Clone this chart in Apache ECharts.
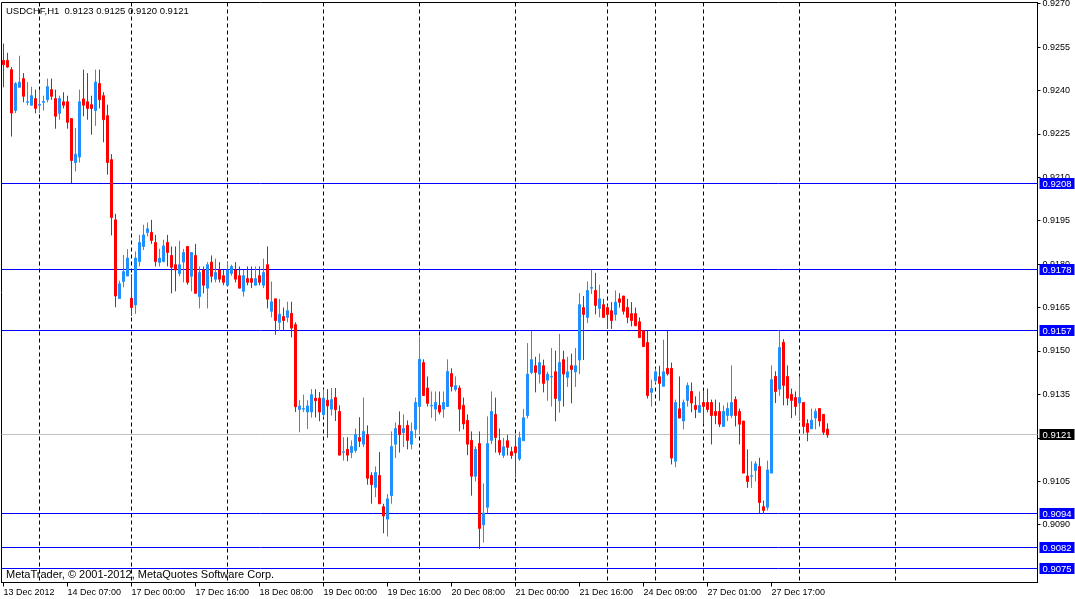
<!DOCTYPE html>
<html>
<head>
<meta charset="utf-8">
<script src="https://cdn.jsdelivr.net/npm/echarts@6/dist/echarts.min.js"></script>
<style>html,body{margin:0;padding:0;background:#fff;}#c{width:1075px;height:599px;}</style>
</head>
<body>
<div id="c"></div>
<script>
// USDCHF H1 candles, 13 Dec 2012 15:00 .. 28 Dec 2012 07:00
const opens = [
0.92504,0.92504,0.92472,0.92331,0.92411,0.92441,0.92359,0.92349,0.92372,0.92349,
0.92359,0.92368,0.92403,0.92372,0.92321,0.92361,0.92361,0.92303,0.92151,0.92170,
0.92371,0.92361,0.92351,0.92331,0.92424,0.92382,0.92313,0.92161,0.91953,0.91681,
0.91740,0.91759,0.91682,0.91659,0.91809,0.91861,0.91909,0.91910,0.91875,0.91806,
0.91809,0.91875,0.91830,0.91798,0.91768,0.91807,0.91861,0.91758,0.91830,0.91688,
0.91780,0.91717,0.91807,0.91748,0.91780,0.91760,0.91727,0.91768,0.91780,0.91760,
0.91706,0.91750,0.91750,0.91727,0.91760,0.91727,0.91798,0.91637,0.91680,0.91599,
0.91619,0.91616,0.91630,0.91591,0.91298,0.91299,0.91289,0.91289,0.91337,0.91337,
0.91280,0.91330,0.91299,0.91339,0.91291,0.91150,0.91160,0.91149,0.91156,0.91201,
0.91178,0.91211,0.91070,0.91029,0.91070,0.90962,0.90919,0.91000,0.91178,0.91243,
0.91218,0.91243,0.91178,0.91229,0.91308,0.91460,0.91372,0.91310,0.91299,0.91312,
0.91299,0.91308,0.91422,0.91367,0.91372,0.91312,0.91260,0.91191,0.91067,0.91180,
0.90899,0.90960,0.91191,0.91281,0.91191,0.91139,0.91190,0.91152,0.91169,0.91127,
0.91190,0.91277,0.91426,0.91449,0.91420,0.91449,0.91399,0.91410,0.91428,0.91328,
0.91470,0.91409,0.91449,0.91428,0.91469,0.91650,0.91616,0.91717,0.91709,0.91647,
0.91660,0.91650,0.91639,0.91626,0.91680,0.91690,0.91650,0.91629,0.91629,0.91601,
0.91570,0.91529,0.91357,0.91397,0.91411,0.91378,0.91440,0.91440,0.91119,0.91300,
0.91258,0.91329,0.91360,0.91312,0.91288,0.91322,0.91322,0.91322,0.91291,0.91291,
0.91239,0.91277,0.91277,0.91332,0.91291,0.91258,0.91068,0.91067,0.91087,0.91101,
0.90962,0.90960,0.91078,0.91412,0.91368,0.91530,0.91412,0.91350,0.91339,0.91320,
0.91322,0.91249,0.91231,0.91268,0.91301,0.91281,0.91230];
const closes = [
0.92489,0.92481,0.92322,0.92424,0.92429,0.92380,0.92361,0.92382,0.92338,0.92352,
0.92362,0.92413,0.92380,0.92311,0.92372,0.92349,0.92290,0.92158,0.92180,0.92361,
0.92349,0.92338,0.92338,0.92429,0.92368,0.92299,0.92151,0.91961,0.91690,0.91732,
0.91774,0.91821,0.91650,0.91821,0.91875,0.91901,0.91922,0.91882,0.91809,0.91821,
0.91863,0.91840,0.91789,0.91780,0.91798,0.91840,0.91737,0.91840,0.91699,0.91771,
0.91727,0.91798,0.91758,0.91771,0.91748,0.91737,0.91780,0.91792,0.91748,0.91717,
0.91760,0.91737,0.91737,0.91750,0.91737,0.91771,0.91679,0.91670,0.91605,0.91627,
0.91605,0.91639,0.91579,0.91307,0.91310,0.91301,0.91310,0.91349,0.91328,0.91289,
0.91337,0.91310,0.91332,0.91297,0.91140,0.91152,0.91140,0.91170,0.91211,0.91188,
0.91222,0.91060,0.91038,0.91080,0.90972,0.90930,0.90989,0.91170,0.91232,0.91211,
0.91232,0.91191,0.91222,0.91322,0.91471,0.91346,0.91319,0.91312,0.91322,0.91289,
0.91322,0.91429,0.91377,0.91380,0.91299,0.91248,0.91178,0.91067,0.91160,0.90887,
0.90940,0.91180,0.91291,0.91201,0.91150,0.91169,0.91167,0.91139,0.91148,0.91200,
0.91269,0.91420,0.91470,0.91426,0.91460,0.91388,0.91420,0.91412,0.91336,0.91460,
0.91420,0.91428,0.91436,0.91449,0.91660,0.91626,0.91709,0.91719,0.91657,0.91680,
0.91616,0.91626,0.91605,0.91669,0.91668,0.91637,0.91616,0.91605,0.91587,0.91546,
0.91515,0.91346,0.91370,0.91428,0.91388,0.91428,0.91421,0.91130,0.91322,0.91268,
0.91322,0.91381,0.91320,0.91298,0.91312,0.91308,0.91298,0.91277,0.91277,0.91247,
0.91291,0.91301,0.91322,0.91277,0.91247,0.91078,0.91049,0.91069,0.91110,0.90976,
0.90949,0.91089,0.91401,0.91360,0.91512,0.91381,0.91337,0.91329,0.91308,0.91339,
0.91239,0.91219,0.91261,0.91291,0.91258,0.91219,0.91210];
const lows = [
0.92411,0.92478,0.92241,0.92322,0.92411,0.92359,0.92349,0.92349,0.92321,0.92322,
0.92331,0.92359,0.92368,0.92268,0.92299,0.92338,0.92268,0.92080,0.92120,0.92151,
0.92311,0.92299,0.92247,0.92278,0.92338,0.92221,0.92109,0.91899,0.91651,0.91681,
0.91720,0.91759,0.91621,0.91628,0.91792,0.91849,0.91896,0.91870,0.91792,0.91792,
0.91806,0.91792,0.91699,0.91706,0.91758,0.91737,0.91729,0.91706,0.91699,0.91647,
0.91699,0.91647,0.91737,0.91737,0.91737,0.91727,0.91727,0.91760,0.91737,0.91717,
0.91688,0.91727,0.91717,0.91727,0.91727,0.91717,0.91647,0.91616,0.91556,0.91570,
0.91570,0.91599,0.91547,0.91289,0.91219,0.91289,0.91230,0.91270,0.91270,0.91257,
0.91270,0.91200,0.91277,0.91258,0.91140,0.91121,0.91119,0.91130,0.91149,0.91168,
0.91168,0.91038,0.90972,0.90995,0.90972,0.90870,0.90859,0.90972,0.91130,0.91149,
0.91168,0.91160,0.91160,0.91199,0.91211,0.91346,0.91308,0.91269,0.91258,0.91281,
0.91269,0.91308,0.91360,0.91360,0.91222,0.91229,0.91140,0.91000,0.91049,0.90816,
0.90838,0.90939,0.91178,0.91149,0.91140,0.91130,0.91139,0.91127,0.91063,0.91120,
0.91190,0.91267,0.91420,0.91357,0.91388,0.91357,0.91328,0.91308,0.91257,0.91287,
0.91308,0.91376,0.91319,0.91376,0.91420,0.91469,0.91596,0.91697,0.91626,0.91616,
0.91616,0.91576,0.91576,0.91605,0.91650,0.91626,0.91596,0.91585,0.91587,0.91546,
0.91515,0.91336,0.91308,0.91388,0.91328,0.91378,0.91415,0.91108,0.91098,0.91268,
0.91229,0.91308,0.91288,0.91268,0.91288,0.91247,0.91288,0.91177,0.91247,0.91237,
0.91239,0.91258,0.91268,0.91239,0.91177,0.91078,0.91027,0.91027,0.91049,0.90939,
0.90937,0.90949,0.91078,0.91320,0.91345,0.91312,0.91312,0.91268,0.91277,0.91258,
0.91214,0.91188,0.91231,0.91229,0.91239,0.91210,0.91200];
const highs = [
0.92562,0.92530,0.92481,0.92429,0.92520,0.92460,0.92429,0.92413,0.92403,0.92403,
0.92382,0.92441,0.92441,0.92403,0.92382,0.92394,0.92382,0.92303,0.92270,0.92403,
0.92472,0.92460,0.92382,0.92472,0.92472,0.92394,0.92351,0.92180,0.91974,0.91743,
0.91832,0.91852,0.91765,0.91844,0.91901,0.91936,0.91944,0.91953,0.91901,0.91853,
0.91884,0.91901,0.91861,0.91861,0.91881,0.91853,0.91861,0.91840,0.91870,0.91792,
0.91792,0.91807,0.91830,0.91819,0.91807,0.91780,0.91807,0.91798,0.91807,0.91792,
0.91780,0.91792,0.91792,0.91792,0.91792,0.91819,0.91861,0.91740,0.91680,0.91680,
0.91650,0.91670,0.91670,0.91599,0.91330,0.91349,0.91330,0.91368,0.91368,0.91358,
0.91368,0.91368,0.91372,0.91372,0.91312,0.91202,0.91202,0.91191,0.91232,0.91271,
0.91339,0.91243,0.91081,0.91101,0.91151,0.90972,0.91006,0.91222,0.91253,0.91291,
0.91281,0.91260,0.91253,0.91339,0.91550,0.91471,0.91412,0.91360,0.91360,0.91360,
0.91360,0.91471,0.91440,0.91412,0.91381,0.91339,0.91281,0.91222,0.91170,0.91222,
0.91042,0.91274,0.91360,0.91339,0.91232,0.91200,0.91210,0.91169,0.91210,0.91221,
0.91300,0.91527,0.91570,0.91480,0.91491,0.91470,0.91428,0.91510,0.91501,0.91559,
0.91501,0.91480,0.91491,0.91510,0.91700,0.91690,0.91740,0.91780,0.91770,0.91729,
0.91680,0.91660,0.91669,0.91709,0.91700,0.91690,0.91680,0.91669,0.91650,0.91616,
0.91570,0.91570,0.91401,0.91439,0.91449,0.91539,0.91570,0.91460,0.91332,0.91412,
0.91332,0.91391,0.91391,0.91343,0.91360,0.91360,0.91370,0.91332,0.91332,0.91322,
0.91312,0.91322,0.91450,0.91343,0.91301,0.91258,0.91160,0.91119,0.91119,0.91131,
0.90983,0.91121,0.91450,0.91430,0.91570,0.91541,0.91450,0.91370,0.91360,0.91412,
0.91322,0.91264,0.91301,0.91301,0.91301,0.91281,0.91250];

// time-axis tick labels (one every 16 bars)
const timeLabels = ['13 Dec 2012','14 Dec 07:00','17 Dec 00:00','17 Dec 16:00','18 Dec 08:00',
  '19 Dec 00:00','19 Dec 16:00','20 Dec 08:00','21 Dec 00:00','21 Dec 16:00',
  '24 Dec 09:00','27 Dec 01:00','27 Dec 17:00'];
// bar index of the first bar of each trading day (period separators)
const daySeparators = [9, 32, 56, 80, 104, 128, 151, 163, 175, 199, 223];
// price axis labels
const priceTicks = [0.9270,0.9255,0.9240,0.9225,0.9210,0.9195,0.9180,0.9165,0.9150,0.9135,0.9120,0.9105,0.9090];
// horizontal levels
const levels = [0.9208, 0.9178, 0.9157, 0.9094, 0.9082, 0.9075];
const bid = 0.9121;
const titleText = 'USDCHF,H1  0.9123 0.9125 0.9120 0.9121';
const footerText = 'MetaTrader, \u00A9 2001-2012, MetaQuotes Software Corp.';

const Y_MIN = 0.9070, Y_MAX = 0.92704;
const totalSlots = 259;
const slots = [];
for (let i = 0; i < totalSlots; i++) slots.push(String(i));
const candleData = opens.map((o, i) => [o, closes[i], lows[i], highs[i]]);

const FONT = "'Liberation Sans', Arial, sans-serif";
const showTick = (idx) => idx % 16 === 0 && idx / 16 < timeLabels.length;

// horizontal level line + price box on the right
function levelRenderer(lineColor, boxColor) {
  return function (params, api) {
    const cs = params.coordSys;
    const v = api.value(1);
    const y = Math.floor(api.coord([0, v])[1]) + 0.5;
    const bx = cs.x + cs.width + 2;
    return {
      type: 'group',
      children: [
        {type: 'line', shape: {x1: cs.x, y1: y, x2: cs.x + cs.width, y2: y},
         style: {stroke: lineColor, lineWidth: 1}},
        {type: 'rect', shape: {x: bx, y: y - 5.5, width: 35, height: 11}, style: {fill: boxColor}},
        {type: 'text', style: {text: v.toFixed(4), x: bx + 3, y: y + 0.5, fill: '#fff',
          font: '9.5px ' + FONT, align: 'left', verticalAlign: 'middle'}}
      ]
    };
  };
}

const chart = echarts.init(document.getElementById('c'), null, {renderer: 'canvas'});
chart.setOption({
  animation: false,
  backgroundColor: '#ffffff',
  textStyle: {fontFamily: FONT},
  grid: {left: 1.5, top: 2.5, width: 1036, height: 580, show: true, borderColor: '#000', borderWidth: 1,
         containLabel: false, outerBoundsMode: 'none'},
  xAxis: {
    type: 'category', data: slots, boundaryGap: true,
    axisLine: {show: true, lineStyle: {color: '#000', width: 1}},
    axisTick: {show: true, alignWithLabel: true, length: 4, interval: (i) => showTick(i), lineStyle: {color: '#000'}},
    axisLabel: {show: true, interval: (i) => showTick(i), hideOverlap: false, align: 'left', margin: 6,
      color: '#000', fontSize: 9, fontFamily: FONT,
      formatter: (v) => showTick(Number(v)) ? timeLabels[Number(v) / 16] : ''},
    splitLine: {show: false}
  },
  yAxis: {
    type: 'value', position: 'right', min: Y_MIN, max: Y_MAX,
    axisLine: {show: true, lineStyle: {color: '#000', width: 1}},
    axisTick: {show: true, length: 3, customValues: priceTicks, lineStyle: {color: '#000'}},
    axisLabel: {show: true, customValues: priceTicks, margin: 5, color: '#000', fontSize: 9, fontFamily: FONT,
      formatter: (v) => v.toFixed(4)},
    splitLine: {show: false}
  },
  graphic: [
    {type: 'text', left: 6, top: 6, z: 100, style: {text: titleText, fill: '#000', font: '9.5px ' + FONT}},
    {type: 'text', left: 6, top: 569, z: 100, style: {text: footerText, fill: '#000', font: '11px ' + FONT}}
  ],
  series: [
    {
      type: 'custom', silent: true, z: 1, clip: false,
      data: daySeparators.map(i => [i, Y_MIN]),
      renderItem: function (params, api) {
        const cs = params.coordSys;
        const x = Math.floor(api.coord([api.value(0), Y_MIN])[0]) + 0.5;
        return {type: 'line', shape: {x1: x, y1: cs.y, x2: x, y2: cs.y + cs.height},
                style: {stroke: '#000', lineWidth: 1, lineDash: [4, 3]}};
      }
    },
    {
      type: 'custom', silent: true, z: 2, clip: false,
      data: [[0, bid]],
      renderItem: levelRenderer('#c0c0c0', '#000000')
    },
    {
      type: 'custom', silent: true, z: 2, clip: false,
      data: levels.map(v => [0, v]),
      renderItem: levelRenderer('#0000ff', '#0000ff')
    },
    {
      type: 'candlestick', data: candleData, z: 3, barWidth: 2, silent: true,
      itemStyle: {color: '#1e90ff', color0: '#ff0000', borderColor: '#1e90ff', borderColor0: '#ff0000', borderWidth: 1}
    }
  ]
});
</script>
</body>
</html>
